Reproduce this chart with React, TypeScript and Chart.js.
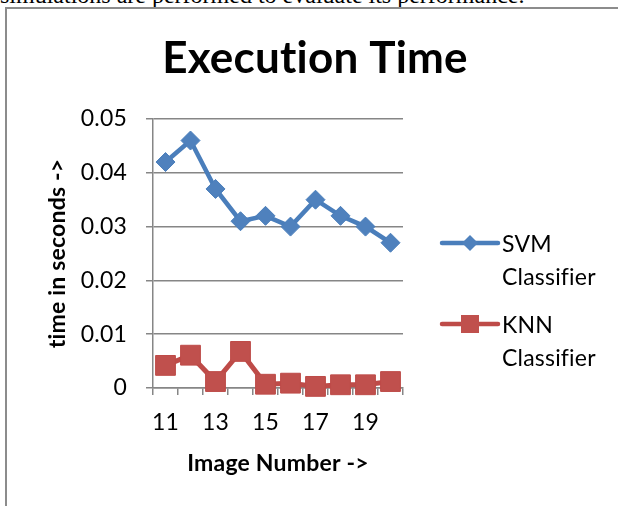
import React, { useEffect, useRef } from 'react';
import { Chart, registerables } from 'chart.js';

Chart.register(...registerables);

const categories = ['11', '12', '13', '14', '15', '16', '17', '18', '19', '20'];
const svmTimes = [0.042, 0.046, 0.037, 0.031, 0.032, 0.030, 0.035, 0.032, 0.030, 0.027];
const knnTimes = [0.0042, 0.0061, 0.0012, 0.0068, 0.0007, 0.0009, 0.0003, 0.0006, 0.0006, 0.0012];
const yMin = 0;
const yMax = 0.05;
const yStep = 0.01;
const legendLines = [['SVM', 'Classifier'], ['KNN', 'Classifier']];

const W = 618;
const H = 506;
const FONT = 'Lato, "Open Sans", sans-serif';
const GRID = '#868686';
const BLUE = '#4F81BD';
const BLUE_DARK = '#4A7EBB';
const RED = '#C0504D';
const RED_DARK = '#BE4B48';

const noLigaturePlugin = {
  id: 'noLigature',
  beforeDraw(chart: any) {
    try {
      chart.ctx.letterSpacing = '0.2px';
    } catch (e) {
      /* ignore */
    }
  },
};

const legendPlugin = {
  id: 'customLegend',
  afterDraw(chart: any) {
    const { ctx, chartArea } = chart;
    const mid = (chartArea.top + chartArea.bottom) / 2;
    const x0 = chartArea.right + 39;
    const x1 = chartArea.right + 95;
    const cx = (x0 + x1) / 2;
    const rows = [mid - 10.5, mid + 70.5];
    ctx.save();
    rows.forEach((y, i) => {
      ctx.lineCap = 'round';
      ctx.lineWidth = 4.5;
      ctx.strokeStyle = i === 0 ? BLUE_DARK : RED_DARK;
      ctx.beginPath();
      ctx.moveTo(x0, y);
      ctx.lineTo(x1, y);
      ctx.stroke();
      ctx.fillStyle = i === 0 ? BLUE : RED;
      ctx.beginPath();
      if (i === 0) {
        const r = 8;
        ctx.moveTo(cx, y - r);
        ctx.lineTo(cx + r, y);
        ctx.lineTo(cx, y + r);
        ctx.lineTo(cx - r, y);
        ctx.closePath();
      } else {
        const s = 9;
        ctx.rect(cx - s, y - s, 2 * s, 2 * s);
      }
      ctx.fill();
      ctx.fillStyle = '#000';
      ctx.font = `23px ${FONT}`;
      ctx.textAlign = 'left';
      ctx.textBaseline = 'middle';
      legendLines[i].forEach((t, j) => {
        ctx.fillText(t, x1 + 4, y + 2 + j * 32.5);
      });
    });
    ctx.restore();
  },
};

export default function App() {
  const ref = useRef<HTMLCanvasElement | null>(null);

  useEffect(() => {
    if (!ref.current) return;
    const chart = new Chart(ref.current, {
      type: 'line',
      data: {
        labels: categories,
        datasets: [
          {
            label: 'SVM Classifier',
            data: svmTimes,
            borderColor: BLUE_DARK,
            backgroundColor: BLUE,
            borderWidth: 4.5,
            tension: 0,
            pointStyle: 'rectRot',
            pointRadius: 9.5,
            pointBackgroundColor: BLUE,
            pointBorderColor: BLUE_DARK,
            pointBorderWidth: 1,
            clip: false,
          },
          {
            label: 'KNN Classifier',
            data: knnTimes,
            borderColor: RED_DARK,
            backgroundColor: RED,
            borderWidth: 5,
            tension: 0,
            pointStyle: 'rect',
            pointRadius: 14,
            pointBackgroundColor: RED,
            pointBorderColor: RED_DARK,
            pointBorderWidth: 1,
            clip: false,
          },
        ],
      },
      options: {
        responsive: false,
        animation: false,
        events: [],
        layout: { padding: { left: 12, right: 0, top: 0, bottom: 0 } },
        plugins: {
          legend: { display: false },
          tooltip: { enabled: false },
          title: {
            display: true,
            text: 'Execution Time',
            color: '#000',
            font: { family: FONT, size: 44, weight: 'bold' },
            padding: { top: 32, bottom: 34.2 },
          },
        },
        scales: {
          x: {
            type: 'category',
            offset: true,
            grid: {
              offset: true,
              drawOnChartArea: false,
              drawTicks: true,
              tickLength: 7,
              color: GRID,
              lineWidth: 1.5,
            },
            border: { display: true, color: GRID, width: 1.5 },
            ticks: {
              autoSkip: false,
              maxRotation: 0,
              color: '#000',
              font: { family: FONT, size: 23 },
              padding: 14,
              callback: (_v: any, i: number) => (i % 2 === 0 ? categories[i] : ''),
            },
            title: {
              display: true,
              text: 'Image Number ->',
              color: '#000',
              font: { family: FONT, size: 23, weight: 'bold' },
              padding: { top: 0, bottom: 29 },
            },
            afterFit: (s: any) => {
              s.height = 118;
            },
          },
          y: {
            min: yMin,
            max: yMax,
            grid: {
              color: GRID,
              lineWidth: 1.5,
              tickLength: 7,
              drawTicks: true,
            },
            border: { display: true, color: GRID, width: 1.5 },
            ticks: {
              stepSize: yStep,
              color: '#000',
              font: { family: FONT, size: 23 },
              padding: 19,
            },
            title: {
              display: true,
              text: 'time in seconds ->',
              color: '#000',
              font: { family: FONT, size: 23, weight: 'bold' },
              padding: { top: 32, bottom: 0 },
            },
            afterFit: (s: any) => {
              s.width = 141;
            },
          },
          legendSpace: {
            type: 'linear',
            position: 'right',
            display: true,
            grid: { display: false, drawTicks: false },
            border: { display: false },
            ticks: { display: false },
            afterFit: (s: any) => {
              s.width = 215;
            },
          },
        },
      } as any,
      plugins: [noLigaturePlugin, legendPlugin],
    });
    return () => chart.destroy();
  }, []);

  return (
    <div
      style={{
        position: 'fixed',
        left: 0,
        top: 0,
        width: W,
        height: H,
        overflow: 'hidden',
        background: '#fff',
      }}
    >
      <div
        style={{
          position: 'absolute',
          left: 0,
          top: -17,
          whiteSpace: 'nowrap',
          fontFamily: '"Liberation Serif", "Times New Roman", serif',
          fontSize: 24,
          lineHeight: '24px',
          color: '#000',
        }}
      >
        simulations are performed to evaluate its performance.
      </div>
      <div
        style={{
          position: 'absolute',
          left: 5,
          top: 7,
          width: 800,
          height: 800,
          borderLeft: '2px solid #8c8c8c',
          borderTop: '2px solid #8c8c8c',
        }}
      />
      <canvas
        ref={ref}
        width={W}
        height={H}
        style={{ position: 'absolute', left: 0, top: 0, width: W, height: H }}
      />
    </div>
  );
}
